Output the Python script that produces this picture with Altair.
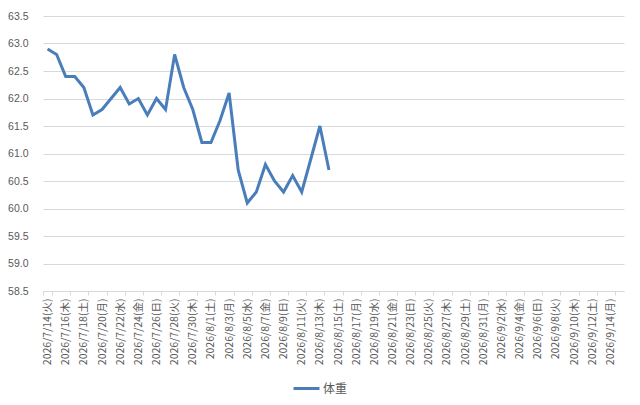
import altair as alt
import pandas as pd

# 2026/7/14 .. 2026/9/15, one category per day
days = pd.date_range("2026-07-14", "2026-09-15", freq="D")
weekday_jp = ["月", "火", "水", "木", "金", "土", "日"]
day_labels = [f"{d.year}/{d.month}/{d.day}({weekday_jp[d.weekday()]})" for d in days]
tick_labels = day_labels[::2]

# 体重 (kg), 7/14 .. 8/14
weights = [62.9, 62.8, 62.4, 62.4, 62.2, 61.7, 61.8, 62.0, 62.2, 61.9,
           62.0, 61.7, 62.0, 61.8, 62.8, 62.2, 61.8, 61.2, 61.2, 61.6,
           62.1, 60.7, 60.1, 60.3, 60.8, 60.5, 60.3, 60.6, 60.3, 60.9,
           61.5, 60.7]
y_ticks = [58.5, 59.0, 59.5, 60.0, 60.5, 61.0, 61.5, 62.0, 62.5, 63.0, 63.5]

df = pd.DataFrame({"日付": day_labels[:len(weights)], "体重": weights})
df["系列"] = "体重"

line = alt.Chart(df).mark_line(strokeWidth=3).encode(
    x=alt.X("日付:O", bandPosition=0.5, title=None,
            scale=alt.Scale(type="band", domain=day_labels, paddingInner=0, paddingOuter=0),
            axis=alt.Axis(values=tick_labels, labelAngle=270, labelAlign="right",
                          labelBaseline="middle", labelPadding=3, tickBand="extent",
                          labelFont="Noto Sans CJK JP", labelFontSize=10.5,
                          labelColor="#595959", domainColor="#d9d9d9", tickColor="#d9d9d9",
                          tickSize=4, grid=False, labelOverlap=False)),
    y=alt.Y("体重:Q", title=None,
            scale=alt.Scale(domain=[58.5, 63.5], nice=False, zero=False),
            axis=alt.Axis(values=y_ticks, format=".1f", domain=False, ticks=False,
                          labelPadding=15, labelFont="Liberation Sans", labelFontSize=10.5,
                          labelColor="#595959", gridColor="#d9d9d9")),
    color=alt.Color("系列:N", title=None,
                    scale=alt.Scale(domain=["体重"], range=["#4a7ebb"]),
                    legend=alt.Legend(orient="none", legendX=249, legendY=358,
                                      symbolType="stroke", symbolSize=676, symbolStrokeWidth=3,
                                      labelOffset=2, labelFont="Noto Sans CJK JP",
                                      labelFontSize=12, labelColor="#595959")),
)

chart = line.properties(
    width=581, height=275,
    autosize=alt.AutoSizeParams(type="none"),
    padding={"left": 35, "top": 8, "right": 8, "bottom": 112},
).configure_view(stroke=None)

chart.save("out.html", embed_options={"renderer": "svg", "actions": False})
